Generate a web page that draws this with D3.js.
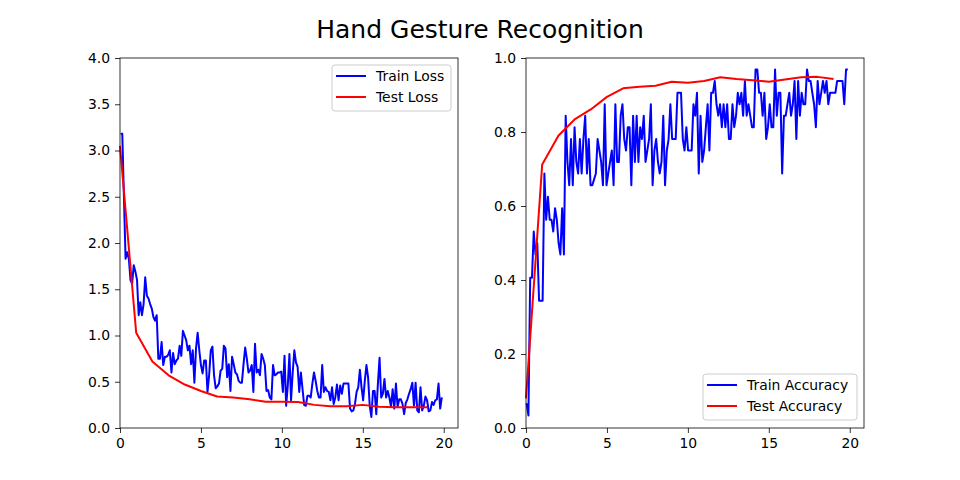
<!DOCTYPE html>
<html>
<head>
<meta charset="utf-8">
<script src="https://cdn.jsdelivr.net/npm/d3@7"></script>
<style>
	body { margin: 0; background: #fff; }
	svg, svg text { font-family: 'DejaVu Sans', sans-serif; }
	.tick text { font-size: 13.9px; fill: #000; font-family: 'DejaVu Sans', sans-serif; }
	.tick line, .domain { stroke: #000; stroke-width: 0.8px; }
</style>
</head>
<body>
<div id="chart"></div>
<script>
const WIDTH = 960;
const HEIGHT = 480;
const TITLE = 'Hand Gesture Recognition';

// train batches run from first to last x, evenly
const TRAIN_X_START = 0.04;
const TRAIN_X_END = 19.88;

const epochs = [0, 1, 2, 3, 4, 5, 6, 7, 8, 9, 10, 11, 12, 13, 14, 15, 16, 17, 18, 19];

const trainLoss = [
	3.18, 3.18, 2.5, 1.83, 1.9, 1.83, 1.6, 1.56, 1.76, 1.69,
	1.6, 1.22, 1.36, 1.22, 1.34, 1.63, 1.43, 1.4, 1.34, 1.29,
	1.2, 1.16, 1.22, 0.75, 0.75, 0.93, 0.68, 0.77, 0.77, 0.79,
	0.84, 0.6, 0.81, 0.69, 0.73, 0.75, 0.89, 0.78, 1.05, 1.0,
	0.95, 0.84, 0.89, 0.69, 0.84, 0.49, 0.86, 1.03, 0.84, 0.68,
	0.59, 0.73, 0.73, 0.39, 0.57, 0.84, 0.88, 0.57, 0.43, 0.45,
	0.48, 0.62, 0.64, 0.89, 0.86, 0.55, 0.69, 0.4, 0.77, 0.69,
	0.6, 0.58, 0.51, 0.49, 0.49, 0.69, 0.87, 0.75, 0.6, 0.62,
	0.68, 0.39, 0.91, 0.6, 0.63, 0.57, 0.8, 0.75, 0.68, 0.4,
	0.41, 0.33, 0.31, 0.68, 0.57, 0.58, 0.6, 0.6, 0.61, 0.39,
	0.78, 0.24, 0.46, 0.8, 0.3, 0.6, 0.84, 0.71, 0.66, 0.39,
	0.6, 0.42, 0.25, 0.24, 0.35, 0.35, 0.33, 0.48, 0.6, 0.51,
	0.4, 0.33, 0.33, 0.68, 0.39, 0.44, 0.4, 0.39, 0.3, 0.44,
	0.26, 0.33, 0.47, 0.3, 0.46, 0.37, 0.48, 0.48, 0.48, 0.48,
	0.21, 0.18, 0.19, 0.26, 0.39, 0.44, 0.63, 0.44, 0.3, 0.51,
	0.68, 0.55, 0.24, 0.12, 0.4, 0.4, 0.15, 0.48, 0.76, 0.33,
	0.37, 0.53, 0.33, 0.4, 0.33, 0.23, 0.42, 0.21, 0.48, 0.23,
	0.31, 0.31, 0.26, 0.15, 0.27, 0.31, 0.37, 0.42, 0.49, 0.24,
	0.49, 0.19, 0.17, 0.44, 0.19, 0.24, 0.34, 0.3, 0.18, 0.19,
	0.28, 0.25, 0.3, 0.31, 0.48, 0.21, 0.33
];

const testLoss = [
	3.05, 1.03, 0.72, 0.57, 0.47, 0.4, 0.34, 0.33, 0.31, 0.285,
	0.285, 0.28, 0.25, 0.235, 0.235, 0.25, 0.23, 0.225, 0.225, 0.225
];

const trainAcc = [
	0.067, 0.034, 0.406, 0.406, 0.531, 0.469, 0.5, 0.344, 0.344, 0.344,
	0.688, 0.563, 0.625, 0.563, 0.563, 0.531, 0.594, 0.563, 0.5, 0.469,
	0.594, 0.469,
	0.844, 0.719, 0.656, 0.781, 0.656, 0.813, 0.719, 0.688, 0.781, 0.688,
	0.781, 0.844, 0.688, 0.781, 0.656, 0.656, 0.672, 0.688, 0.781, 0.75,
	0.719, 0.656, 0.875, 0.656, 0.688, 0.719, 0.75,
	0.656, 0.875, 0.719, 0.719, 0.844, 0.875, 0.781, 0.75, 0.813, 0.813,
	0.656, 0.844, 0.719, 0.844, 0.719, 0.813, 0.781, 0.844, 0.719, 0.75,
	0.781, 0.875, 0.656, 0.75, 0.781, 0.719, 0.688, 0.719, 0.844, 0.656,
	0.75, 0.781, 0.875, 0.781, 0.781, 0.781, 0.906, 0.906, 0.906, 0.781,
	0.75, 0.813, 0.75, 0.75, 0.75, 0.875, 0.844, 0.906, 0.688, 0.844,
	0.719, 0.75, 0.813, 0.875, 0.75, 0.906, 0.906, 0.938, 0.875, 0.844,
	0.875, 0.813, 0.875, 0.813, 0.875, 0.781, 0.781, 0.875, 0.813, 0.844,
	0.906, 0.875, 0.906, 0.844, 0.938, 0.844, 0.875, 0.844, 0.813, 0.813,
	0.969, 0.969, 0.906, 0.906, 0.844, 0.906, 0.781, 0.813, 0.875, 0.813,
	0.813, 0.969, 0.844, 0.906, 0.906, 0.688, 0.844, 0.844, 0.875, 0.906,
	0.844, 0.875, 0.938, 0.781, 0.938, 0.844, 0.906, 0.875, 0.875, 0.969,
	0.938, 0.938, 0.906, 0.875, 0.813, 0.938, 0.875, 0.906, 0.938, 0.906,
	0.938, 0.875, 0.906, 0.906, 0.906, 0.906, 0.938, 0.938, 0.938, 0.938,
	0.875, 0.969, 0.969
];

const testAcc = [
	0.08, 0.712, 0.79, 0.834, 0.861, 0.895, 0.918, 0.922, 0.925, 0.936,
	0.933, 0.938, 0.948, 0.943, 0.94, 0.936, 0.942, 0.948, 0.949, 0.943
];

const lossTicks = [0, 0.5, 1, 1.5, 2, 2.5, 3, 3.5, 4];
const accTicks = [0, 0.2, 0.4, 0.6, 0.8, 1.0];
const xTicks = [0, 5, 10, 15, 20];

const BLUE = '#0000ff';
const RED = '#ff0000';

// turn a batch series into [x, y] pairs spread over the epoch range
function batchPoints(values) {
	const step = (TRAIN_X_END - TRAIN_X_START) / (values.length - 1);
	return values.map((v, i) => [TRAIN_X_START + i * step, v]);
}

const svg = d3.select('#chart')
	.append('svg')
	.attr('width', WIDTH)
	.attr('height', HEIGHT);

svg.append('text')
	.attr('x', WIDTH / 2)
	.attr('y', 38)
	.attr('text-anchor', 'middle')
	.style('font-size', '25px')
	.text(TITLE);

function drawPanel(opts) {
	const { left, right, top, bottom } = opts;
	const x = d3.scaleLinear().domain([0, 20.88]).range([left, right]);
	const y = d3.scaleLinear().domain(opts.yDomain).range([bottom, top]);

	const g = svg.append('g');

	const line = d3.line().x(d => x(d[0])).y(d => y(d[1]));

	g.append('path')
		.datum(batchPoints(opts.train))
		.attr('d', line)
		.attr('fill', 'none')
		.attr('stroke', BLUE)
		.attr('stroke-width', 2)
		.attr('stroke-linejoin', 'round');

	g.append('path')
		.datum(epochs.map((e, i) => [e, opts.test[i]]))
		.attr('d', line)
		.attr('fill', 'none')
		.attr('stroke', RED)
		.attr('stroke-width', 2)
		.attr('stroke-linejoin', 'round');

	// frame
	g.append('rect')
		.attr('x', left)
		.attr('y', top)
		.attr('width', right - left)
		.attr('height', bottom - top)
		.attr('fill', 'none')
		.attr('stroke', '#000')
		.attr('stroke-width', 0.8);

	g.append('g')
		.attr('transform', `translate(0,${bottom})`)
		.call(d3.axisBottom(x).tickValues(xTicks).tickFormat(d3.format('d'))
			.tickSize(5).tickPadding(5).tickSizeOuter(0))
		.call(a => a.select('.domain').remove());

	g.append('g')
		.attr('transform', `translate(${left},0)`)
		.call(d3.axisLeft(y).tickValues(opts.yTicks).tickFormat(d3.format('.1f'))
			.tickSize(5).tickPadding(5).tickSizeOuter(0))
		.call(a => a.select('.domain').remove());

	// legend
	const lg = g.append('g').attr('transform', `translate(${opts.legend.x},${opts.legend.y})`);
	lg.append('rect')
		.attr('width', opts.legend.w)
		.attr('height', 46)
		.attr('rx', 3)
		.attr('fill', '#fff')
		.attr('fill-opacity', 0.8)
		.attr('stroke', '#cccccc')
		.attr('stroke-width', 1);

	opts.labels.forEach((label, i) => {
		const yy = 11 + i * 21;
		lg.append('line')
			.attr('x1', 4).attr('x2', 34)
			.attr('y1', yy).attr('y2', yy)
			.attr('stroke', i === 0 ? BLUE : RED)
			.attr('stroke-width', 2);
		lg.append('text')
			.attr('x', 44)
			.attr('y', yy)
			.attr('dy', '0.35em')
			.style('font-size', '13.9px')
			.text(label);
	});
}

drawPanel({
	left: 120, right: 458, top: 58, bottom: 428,
	yDomain: [0, 4],
	yTicks: lossTicks,
	train: trainLoss,
	test: testLoss,
	labels: ['Train Loss', 'Test Loss'],
	legend: { x: 332, y: 65, w: 119 }
});

drawPanel({
	left: 526, right: 864, top: 58, bottom: 428,
	yDomain: [0, 1],
	yTicks: accTicks,
	train: trainAcc,
	test: testAcc,
	labels: ['Train Accuracy', 'Test Accuracy'],
	legend: { x: 703, y: 374, w: 154 }
});
</script>
</body>
</html>
